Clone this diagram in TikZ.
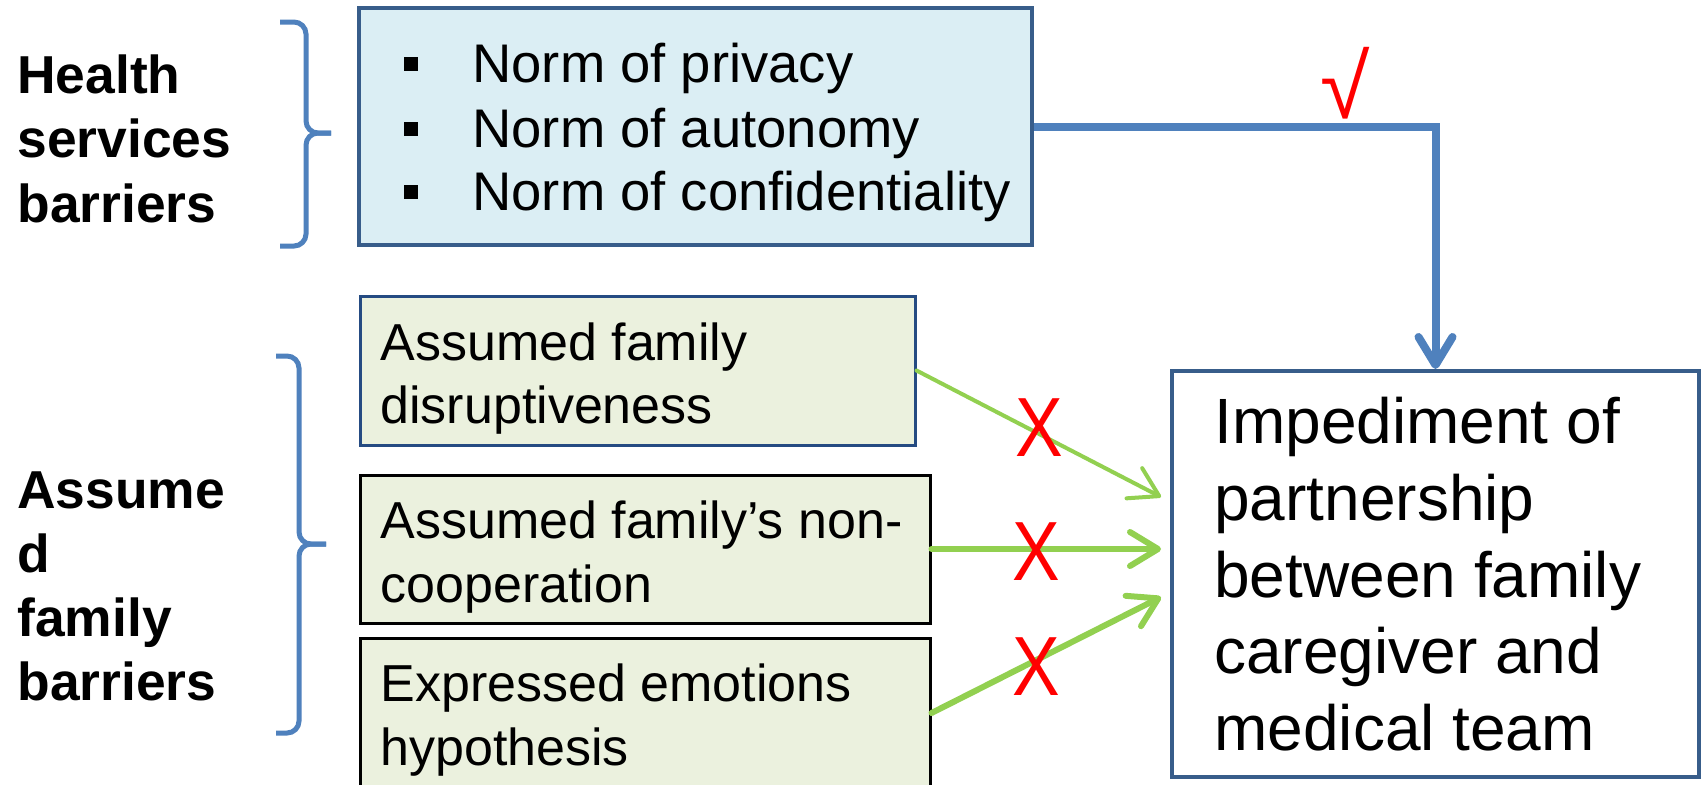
\documentclass[tikz,border=0pt]{standalone}
\usepackage{fontspec}
\setmainfont{Liberation Sans}
\usetikzlibrary{arrows.meta}
\definecolor{bline}{RGB}{79,129,189}
\definecolor{topfill}{RGB}{219,238,244}
\definecolor{topedge}{RGB}{56,93,138}
\definecolor{gfill}{RGB}{235,241,222}
\definecolor{boxblue}{RGB}{37,75,130}
\definecolor{gline}{RGB}{146,208,80}
\definecolor{redmark}{RGB}{255,0,0}
\begin{document}
\begin{tikzpicture}[x=0.5pt,y=-0.5pt,
  boxnode/.style={draw, rectangle, inner sep=0pt, line width=1.5pt},
  txt/.style={anchor=base west, inner sep=0pt, font=\fontsize{26}{30}\selectfont},
  bultxt/.style={anchor=base west, inner sep=0pt, font=\fontsize{27.2}{30}\selectfont},
  lbl/.style={anchor=base west, inner sep=0pt, font=\fontsize{26.7}{30}\selectfont\bfseries},
  bigtxt/.style={anchor=base west, inner sep=0pt, font=\fontsize{32}{36}\selectfont},
  sq/.style={fill=black, inner sep=0pt, minimum size=7pt},
  bracestyle/.style={draw=bline, line width=2.5pt, rounded corners=6pt},
  garrow/.style={draw=gline, line cap=round, -{Straight Barb[length=14pt,width=17pt,round]}},
  barrow/.style={draw=bline, line width=4pt, -{Straight Barb[length=14pt,width=17pt,round]}},
  xmark/.style={text=redmark, inner sep=0pt, font=\fontsize{42}{42}\selectfont},
]
\clip (0,0) rectangle (1702,784);
\fill[white] (0,0) rectangle (1702,784);

% boxes
\node[boxnode, draw=topedge, fill=topfill, line width=2pt, minimum width=336.5pt, minimum height=118.5pt] (top) at (695.5,126.5) {};
\node[boxnode, draw=boxblue, fill=gfill, minimum width=277.5pt, minimum height=74.5pt] (b1) at (637.5,370.5) {};
\node[boxnode, draw=black, fill=gfill, minimum width=285pt, minimum height=74pt] (b2) at (645,549) {};
\node[boxnode, draw=black, fill=gfill, minimum width=285pt, minimum height=75pt] (b3) at (645,713) {};
\node[boxnode, draw=topedge, fill=white, line width=2pt, minimum width=263.5pt, minimum height=203pt] (imp) at (1435.5,574) {};

% bullets
\node[sq] (s1) at (411,64) {};
\node[sq] (s2) at (411,129) {};
\node[sq] (s3) at (411,192) {};
\node[bultxt] (n1) at (472,82) {Norm of privacy};
\node[bultxt] (n2) at (472,147) {Norm of autonomy};
\node[bultxt] (n3) at (472,210) {Norm of confidentiality};

% left labels
\node[lbl] (h1) at (17,93) {Health};
\node[lbl] (h2) at (17,157) {services};
\node[lbl] (h3) at (17,222) {barriers};
\node[lbl] (a1) at (17,508) {Assume};
\node[lbl] (a2) at (17,572) {d};
\node[lbl] (a3) at (17,636) {family};
\node[lbl] (a4) at (17,700) {barriers};

% green box texts
\node[txt] (g1a) at (380,360) {Assumed family};
\node[txt] (g1b) at (380,423) {disruptiveness};
\node[txt] (g2a) at (380,538) {Assumed family’s non-};
\node[txt] (g2b) at (380,602) {cooperation};
\node[txt] (g3a) at (380,701) {Expressed emotions};
\node[txt] (g3b) at (380,765) {hypothesis};

% outcome text
\node[bigtxt] (i1) at (1214,443) {Impediment of};
\node[bigtxt] (i2) at (1214,520) {partnership};
\node[bigtxt] (i3) at (1214,597) {between family};
\node[bigtxt] (i4) at (1214,673) {caregiver and};
\node[bigtxt] (i5) at (1214,750) {medical team};

% braces
\draw[bracestyle] (280,22) -- (306,22) -- (306,133) -- (331,133);
\draw[bracestyle] (331,133) -- (306,133) -- (306,246) -- (280,246);
\draw[bracestyle] (276,356) -- (299,356) -- (299,544) -- (326,544);
\draw[bracestyle] (326,544) -- (299,544) -- (299,733) -- (276,733);

% blue connector
\draw[barrow] (top.east) -| (imp.north);
\node[text=redmark, inner sep=0pt, font=\fontsize{45}{45}\selectfont] (chk) at (1345,83) {√};

% green connectors
\coordinate (t1) at (1161,497);
\coordinate (t2) at (1161,549);
\coordinate (t3) at (1161,597);
\draw[garrow, line width=2pt] (b1.east) -- (t1);
\draw[garrow, line width=3pt] (b2.east) -- (t2);
\draw[garrow, line width=3pt] (b3.east) -- (t3);

% X marks
\node[xmark] (x1) at (1039,428) {\scalebox{0.85}[1]{X}};
\node[xmark] (x2) at (1036,552) {\scalebox{0.85}[1]{X}};
\node[xmark] (x3) at (1036,667) {\scalebox{0.85}[1]{X}};
\end{tikzpicture}
\end{document}
